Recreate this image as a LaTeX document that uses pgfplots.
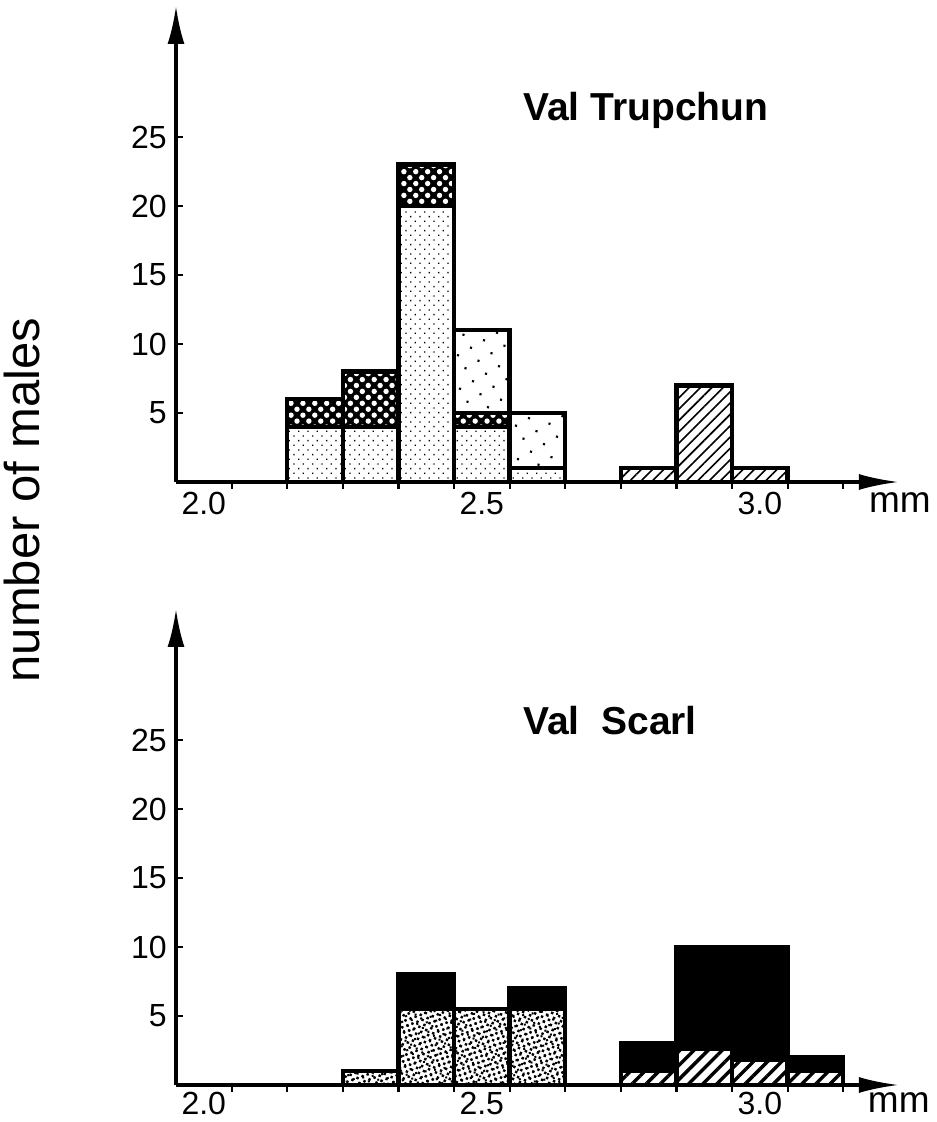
\documentclass[border=0pt]{standalone}
\usepackage{pgfplots}
\pgfplotsset{compat=1.18}
\usetikzlibrary{patterns.meta, arrows.meta}
\usepackage{fontspec}
\setmainfont{Liberation Sans}

\pgfplotsset{
  panel/.style={
    scale only axis, width=361.4bp, height=238bp,
    xmin=2.0, xmax=3.3, ymin=0, ymax=34.5,
    clip=false,
    axis x line=bottom, axis y line=left,
    axis line style={line width=1.6bp},
    x axis line style={-{Latex[length=20bp,width=8bp]}},
    y axis line style={-{Latex[length=19bp,width=8.5bp]}},
    xtick={2.1,2.2,2.3,2.4,2.5,2.6,2.7,2.8,2.9,3.0,3.1,3.2},
    xticklabels={},
    extra x ticks={2.05,2.55,3.05},
    extra x tick labels={2.0,2.5,3.0},
    extra x tick style={major tick length=0pt},
    xticklabel style={inner sep=0pt, anchor=north, yshift=-5bp},
    ytick={5,10,15,20,25},
    yticklabels={5,10,15,20,25},
    yticklabel style={inner sep=0pt, anchor=east, xshift=-4.5bp},
    xtick align=outside, ytick align=inside,
    major tick length=3.5bp,
    tick style={line width=1.1bp, black},
    tick label style={font=\fontsize{16bp}{17bp}\selectfont},
  },
  hb/.style={ybar, bar width=0.1, bar shift=0pt, draw=black, line width=2.2bp, line join=miter},
  finedots/.style={hb, preaction={fill=white}, pattern={Dots[radius=0.45bp, distance=3.3bp, angle=45]}, pattern color=black},
  cross/.style={hb, preaction={fill=black}, pattern={Dots[radius=1.35bp, distance=4.2bp, angle=45]}, pattern color=white},
  sparse/.style={hb, preaction={fill=white}, pattern={Dots[radius=0.75bp, distance=7.5bp, angle=30]}, pattern color=black},
  hatchA/.style={hb, preaction={fill=white}, pattern={Lines[angle=45, distance=4bp, line width=0.8bp]}, pattern color=black},
  hatchB/.style={hb, preaction={fill=white}, pattern={Lines[angle=45, distance=5bp, line width=1.7bp]}, pattern color=black},
  speckle/.style={hb, preaction={fill=white}, pattern={Dots[radius=0.85bp, distance=2.7bp, angle=20]}, pattern color=black,
     postaction={pattern={Dots[radius=0.7bp, distance=3.4bp, angle=-35]}, pattern color=black}},
  solid black/.style={hb, fill=black},
}

\begin{document}
\begin{tikzpicture}
\useasboundingbox (0,0) rectangle (468.5bp,561bp);

% ---------------- Val Trupchun ----------------
\begin{axis}[panel, at={(88bp,320bp)}, anchor=south west]
  \addplot[sparse] coordinates {(2.55,11) (2.65,5)};
  \addplot[cross] coordinates {(2.25,6) (2.35,8) (2.45,23) (2.55,5)};
  \addplot[finedots] coordinates {(2.25,4) (2.35,4) (2.45,20) (2.55,4) (2.65,1)};
  \addplot[hatchA] coordinates {(2.85,1) (2.95,7) (3.05,1)};
  \node[anchor=base west, font=\bfseries\fontsize{19.5bp}{22bp}\selectfont] at (axis cs:2.612,26.2) {Val Trupchun};
  \node[font=\fontsize{18.5bp}{20bp}\selectfont] at (axis cs:3.302,-1.5) {mm};
\end{axis}

% ---------------- Val Scarl ----------------
\begin{axis}[panel, at={(88bp,18.5bp)}, anchor=south west, xticklabel style={yshift=1.5bp}]
  \addplot[solid black] coordinates {(2.45,8) (2.65,7) (2.85,3) (2.95,10) (3.05,10) (3.15,2)};
  \addplot[speckle] coordinates {(2.35,1) (2.45,5.5) (2.55,5.5) (2.65,5.5)};
  \addplot[hatchB] coordinates {(2.85,1) (2.95,2.6) (3.05,1.8) (3.15,1)};
  \node[anchor=base west, font=\bfseries\fontsize{19.5bp}{22bp}\selectfont] at (axis cs:2.612,25.4) {Val\ \ Scarl};
  \node[font=\fontsize{18.5bp}{20bp}\selectfont] at (axis cs:3.30,-1.3) {mm};
\end{axis}

\node[rotate=90, font=\fontsize{24.5bp}{28bp}\selectfont] at (11bp,311bp) {number of males};
\end{tikzpicture}
\end{document}
